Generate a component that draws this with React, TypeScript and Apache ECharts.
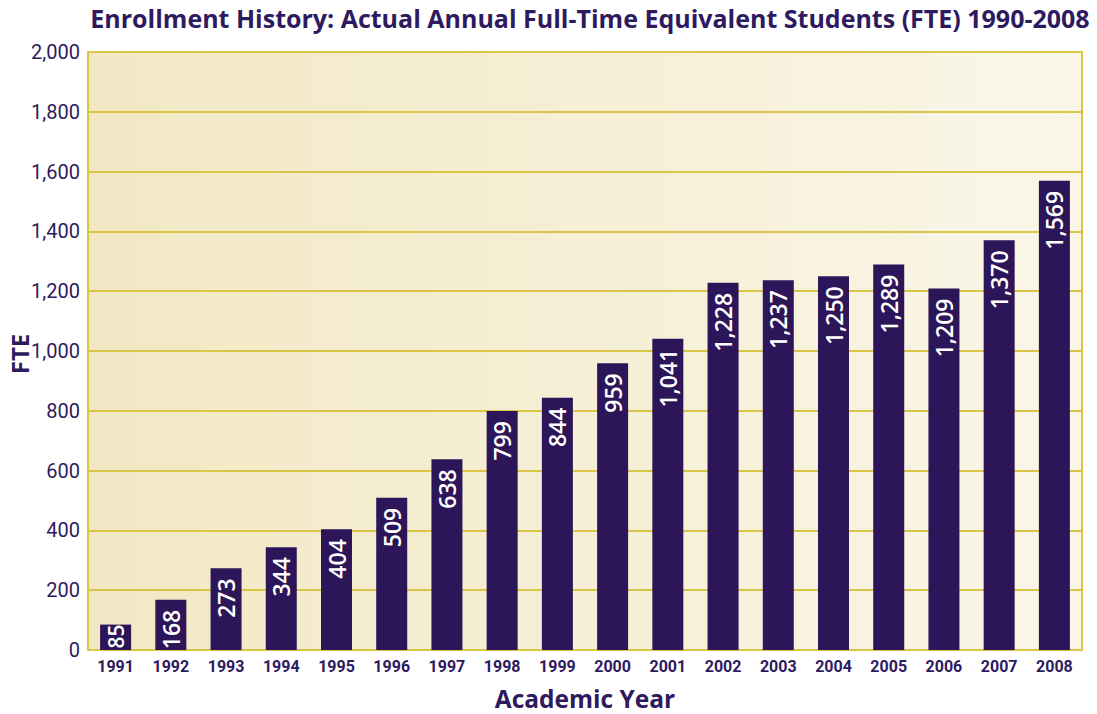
import React, { useEffect, useRef } from "react";
import * as echarts from "echarts";

const years = ["1991","1992","1993","1994","1995","1996","1997","1998","1999","2000","2001","2002","2003","2004","2005","2006","2007","2008"];
const fte = [85,168,273,344,404,509,638,799,844,959,1041,1228,1237,1250,1289,1209,1370,1569];
const yMin = 0;
const yMax = 2000;
const yStep = 200;
const yAxisTitle = "FTE";

const purple = "#2c1558";
const textPurple = "#2e1a5f";
const gold = "#d9c546";
const condensed = "'Liberation Sans Narrow', 'Roboto', sans-serif";
const sans = "'Open Sans', 'Noto Sans', sans-serif";

export default function App() {
  const ref = useRef<HTMLDivElement>(null);
  useEffect(() => {
    if (!ref.current) return;
    const chart = echarts.init(ref.current, null, { renderer: "svg" });
    const barData = fte.map((v) =>
      v < 100 ? { value: v, label: { distance: 0, fontSize: 21 } } : v
    );
    chart.setOption({
      animation: false,
      backgroundColor: "#ffffff",
      title: {
        text: "Enrollment History: Actual Annual Full-Time Equivalent Students (FTE) 1990-2008",
        left: 585,
        textAlign: "center",
        top: 0,
        textStyle: { color: textPurple, fontFamily: sans, fontWeight: "bold", fontSize: 25 },
      },
      graphic: [
        {
          type: "text",
          x: 19,
          y: 354,
          rotation: Math.PI / 2,
          style: {
            text: yAxisTitle,
            fill: textPurple,
            font: `bold 24px ${sans}`,
            align: "center",
            verticalAlign: "middle",
          },
        },
      ],
      grid: {
        left: 88,
        right: 15,
        top: 52,
        bottom: 64,
        outerBoundsMode: "none",
        containLabel: false,
        show: true,
        borderColor: gold,
        borderWidth: 2,
        backgroundColor: new echarts.graphic.LinearGradient(0, 0, 1, 0, [
          { offset: 0, color: "#f2e8c4" },
          { offset: 1, color: "#faf6e8" },
        ]),
      },
      xAxis: {
        type: "category",
        data: years,
        name: "Academic Year",
        nameLocation: "middle",
        nameGap: 36,
        nameTextStyle: { color: textPurple, fontFamily: sans, fontWeight: "bold", fontSize: 24.5 },
        axisLine: { lineStyle: { color: gold, width: 2 } },
        axisTick: { show: false },
        axisLabel: { color: textPurple, fontFamily: condensed, fontWeight: "bold", fontSize: 16, margin: 8 },
      },
      yAxis: {
        type: "value",
        min: yMin,
        max: yMax,
        interval: yStep,
        axisLine: { show: false },
        axisTick: { show: false },
        splitLine: { lineStyle: { color: gold, width: 2 } },
        axisLabel: {
          color: textPurple,
          fontFamily: condensed,
          fontSize: 20,
          margin: 8,
          formatter: (v: number) => v.toLocaleString("en-US"),
        },
      },
      series: [
        {
          type: "bar",
          data: barData,
          barWidth: 31,
          itemStyle: { color: purple },
          label: {
            show: true,
            position: "insideTop",
            rotate: 90,
            align: "right",
            verticalAlign: "middle",
            distance: 10,
            color: "#ffffff",
            fontFamily: sans,
            fontWeight: 600,
            fontSize: 23,
            formatter: (p: any) => Number(p.value).toLocaleString("en-US"),
          },
        },
      ],
    });
    return () => chart.dispose();
  }, []);
  return (
    <div
      ref={ref}
      style={{ position: "fixed", left: 0, top: 0, width: 1097, height: 714 }}
    />
  );
}
